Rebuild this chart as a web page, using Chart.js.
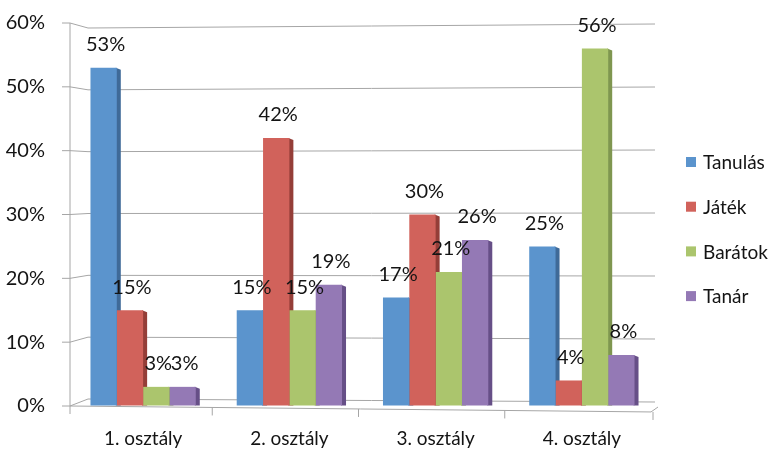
<!DOCTYPE html>
<html>
<head>
<meta charset="utf-8">
<style>
  html, body { margin: 0; padding: 0; background: #fff; }
  #wrap { width: 775px; height: 452px; }
</style>
<script src="https://cdn.jsdelivr.net/npm/chart.js@4.4.1/dist/chart.umd.min.js"></script>
</head>
<body>
<div id="wrap"><canvas id="c" width="775" height="452"></canvas></div>
<script>
const categories = ['1. osztály', '2. osztály', '3. osztály', '4. osztály'];
const seriesNames = ['Tanulás', 'Játék', 'Barátok', 'Tanár'];
const tanulas = [53, 15, 17, 25];
const jatek = [15, 42, 30, 4];
const baratok = [3, 15, 21, 56];
const tanar = [3, 19, 26, 8];
const yTicks = [0, 10, 20, 30, 40, 50, 60];

const frontColors = ['#5b94cd', '#d1625b', '#abc56d', '#9479b5'];
const sideColors = ['#3f6a98', '#943e38', '#7f9650', '#664f87'];
const FONT = 'Lato, "Noto Sans", sans-serif';
const TEXT = '#141414';

// grid lines with a little perspective: short left wall, then the back wall
const wallPlugin = {
    id: 'wall',
    beforeDatasetsDraw(chart) {
        const ctx = chart.ctx;
        const y = chart.scales.y;
        const area = chart.chartArea;
        const wallX = area.left + 18;
        ctx.save();
        ctx.strokeStyle = '#a6a6a6';
        ctx.lineWidth = 1;
        yTicks.forEach(v => {
            const py = y.getPixelForValue(v);
            const sl = -7 + 12 * v / 60;
            const sr = 3 - 7 * v / 60;
            ctx.beginPath();
            ctx.moveTo(area.left - 8, py);
            ctx.lineTo(area.left, py);
            ctx.lineTo(wallX, py + sl);
            ctx.lineTo(area.right, py + sl + sr);
            ctx.stroke();
        });
        // y axis
        ctx.beginPath();
        ctx.moveTo(area.left, y.getPixelForValue(60));
        ctx.lineTo(area.left, area.bottom + 8);
        ctx.stroke();
        // floor front edge and category ticks
        const x = chart.scales.x;
        const fy = (px) => area.bottom + 6 * (px - area.left) / (area.right - area.left);
        ctx.beginPath();
        ctx.moveTo(area.left, area.bottom);
        ctx.lineTo(area.right - 4, fy(area.right - 4));
        ctx.lineTo(area.right + 3, area.bottom + 1);
        ctx.stroke();
        for (let i = 1; i <= categories.length; i++) {
            const px = (x.getPixelForValue(i - 1) + x.getPixelForValue(i)) / 2 - 4;
            const bx = i === categories.length ? area.right - 2 : px;
            ctx.beginPath();
            ctx.moveTo(bx, fy(bx));
            ctx.lineTo(bx, fy(bx) + 8);
            ctx.stroke();
        }

        // side faces of the bars, drawn behind so the next bar covers them
        chart.data.datasets.forEach((ds, di) => {
            const meta = chart.getDatasetMeta(di);
            meta.data.forEach(el => {
                const p = el.getProps(['x', 'y', 'base', 'width'], true);
                const r = p.x + p.width / 2;
                ctx.fillStyle = sideColors[di];
                ctx.beginPath();
                ctx.moveTo(r - 1, p.y);
                ctx.lineTo(r + 4, p.y + 2);
                ctx.lineTo(r + 4, p.base);
                ctx.lineTo(r - 1, p.base);
                ctx.closePath();
                ctx.fill();
            });
        });
        ctx.restore();
    }
};

// value labels and the legend on the right
const labelPlugin = {
    id: 'valueLabels',
    afterDatasetsDraw(chart) {
        const ctx = chart.ctx;
        ctx.save();
        ctx.font = '20px ' + FONT;
        ctx.fillStyle = TEXT;
        ctx.textAlign = 'center';
        ctx.textBaseline = 'middle';
        chart.data.datasets.forEach((ds, di) => {
            const meta = chart.getDatasetMeta(di);
            meta.data.forEach((el, i) => {
                const p = el.getProps(['x', 'y'], true);
                ctx.fillText(ds.data[i] + '%', p.x + 2, p.y - 23);
            });
        });

        ctx.textAlign = 'left';
        ctx.font = '19px ' + FONT;
        const legendX = chart.chartArea.right + 31;
        chart.data.datasets.forEach((ds, di) => {
            const ly = 162 + di * 44.7;
            ctx.fillStyle = frontColors[di];
            ctx.fillRect(legendX, ly - 5, 10, 10);
            ctx.fillStyle = TEXT;
            ctx.fillText(ds.label, legendX + 17, ly + 1);
        });
        ctx.restore();
    }
};

const seriesValues = [tanulas, jatek, baratok, tanar];

new Chart(document.getElementById('c').getContext('2d'), {
    type: 'bar',
    data: {
        labels: categories,
        datasets: seriesNames.map((name, i) => ({
            label: name,
            data: seriesValues[i],
            backgroundColor: frontColors[i],
            borderWidth: 0,
            categoryPercentage: 0.72,
            barPercentage: 1
        }))
    },
    options: {
        responsive: false,
        animation: false,
        layout: { padding: { top: 23, right: 120, left: 0, bottom: 0 } },
        plugins: {
            legend: { display: false },
            tooltip: { enabled: false }
        },
        scales: {
            x: {
                grid: { display: false, drawTicks: false },
                border: { display: false },
                ticks: {
                    color: TEXT,
                    font: { family: FONT, size: 19 },
                    padding: 21,
                    maxRotation: 0
                },
                afterFit: (scale) => { scale.height = 46; }
            },
            y: {
                min: 0,
                max: 60,
                // invisible tick marks push the labels away from the axis
                grid: {
                    display: true,
                    drawOnChartArea: false,
                    drawTicks: true,
                    tickLength: 22,
                    color: 'rgba(0,0,0,0)'
                },
                border: { display: false },
                ticks: {
                    stepSize: 10,
                    color: TEXT,
                    font: { family: FONT, size: 20 },
                    padding: 3,
                    callback: (v) => v + '%'
                },
                afterFit: (scale) => { scale.width = 70; }
            }
        }
    },
    plugins: [wallPlugin, labelPlugin]
});
</script>
</body>
</html>
